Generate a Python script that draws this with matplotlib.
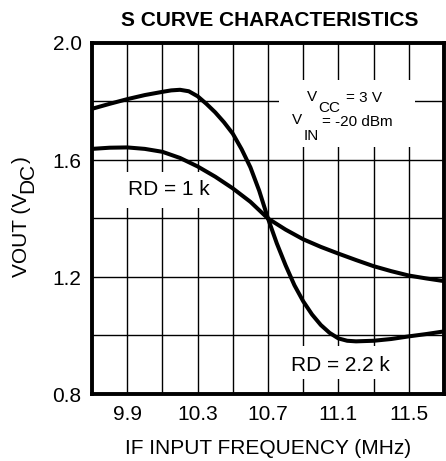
import matplotlib
matplotlib.use("Agg")
import matplotlib.pyplot as plt
from matplotlib.patches import Rectangle
from matplotlib.transforms import IdentityTransform

plt.rcParams['font.family'] = ['Liberation Sans', 'DejaVu Sans']

# Data
freq_22k = [9.7, 9.8, 9.9, 10.0, 10.1, 10.15, 10.2, 10.25, 10.3, 10.35, 10.4, 10.45,
            10.5, 10.55, 10.6, 10.65, 10.7, 10.75, 10.8, 10.85, 10.9, 10.95, 11.0,
            11.05, 11.1, 11.15, 11.2, 11.3, 11.4, 11.5, 11.6, 11.7]
vout_22k = [1.775, 1.792, 1.808, 1.822, 1.833, 1.838, 1.840, 1.835, 1.818, 1.792, 1.763, 1.729,
            1.690, 1.637, 1.575, 1.495, 1.400, 1.315, 1.240, 1.172, 1.117, 1.072, 1.036,
            1.009, 0.990, 0.982, 0.980, 0.982, 0.988, 0.997, 1.005, 1.014]

freq_1k = [9.7, 9.8, 9.9, 10.0, 10.1, 10.2, 10.3, 10.4, 10.5, 10.6, 10.7, 10.8,
           10.9, 11.0, 11.1, 11.2, 11.3, 11.4, 11.5, 11.6, 11.7]
vout_1k = [1.638, 1.642, 1.643, 1.638, 1.628, 1.607, 1.578, 1.543, 1.503, 1.457, 1.400, 1.362,
           1.329, 1.303, 1.280, 1.258, 1.237, 1.220, 1.205, 1.195, 1.186]

xticks = [9.9, 10.3, 10.7, 11.1, 11.5]
xgrid = [9.9, 10.1, 10.3, 10.5, 10.7, 10.9, 11.1, 11.3, 11.5]
yticks = [0.8, 1.2, 1.6, 2.0]
ygrid = [1.0, 1.2, 1.4, 1.6, 1.8]

W, H = 446, 461
fig = plt.figure(figsize=(W / 100, H / 100), dpi=100)
ax = fig.add_axes([92 / W, 67 / H, 352 / W, 351 / H])

ax.set_xlim(9.7, 11.7)
ax.set_ylim(0.8, 2.0)

for xv in xgrid:
    ax.axvline(xv, color='black', lw=1.0, zorder=0.5)
for yv in ygrid:
    ax.axhline(yv, color='black', lw=1.0, zorder=0.5)

# white boxes hiding gridlines behind text
ax.add_patch(Rectangle((10.762, 1.644), 0.773, 0.230, facecolor='white', edgecolor='none', zorder=1))
ax.add_patch(Rectangle((9.87, 1.436), 0.54, 0.123, facecolor='white', edgecolor='none', zorder=1))
ax.add_patch(Rectangle((10.79, 0.8496), 0.64, 0.113, facecolor='white', edgecolor='none', zorder=1))

ax.plot(freq_22k, vout_22k, color='black', lw=2.9, zorder=3,
        solid_joinstyle='round', solid_capstyle='round')
ax.plot(freq_1k, vout_1k, color='black', lw=2.9, zorder=3,
        solid_joinstyle='round', solid_capstyle='round')

ax.set_xticks(xticks)
ax.set_xticklabels([f"{v:.1f}" for v in xticks])
ax.set_yticks(yticks)
ax.set_yticklabels([f"{v:.1f}" for v in yticks])
ax.tick_params(axis='both', length=0, labelsize=15)
ax.tick_params(axis='x', pad=8)
ax.tick_params(axis='y', pad=7.5)

for s in ax.spines.values():
    s.set_linewidth(2.8)
    s.set_zorder(4)

ax.set_xlabel('IF INPUT FREQUENCY (MHz)', fontsize=15, labelpad=11)

fig.text(270 / W, 1 - 26 / H, 'S CURVE CHARACTERISTICS', ha='center', va='baseline',
         fontsize=15, fontweight='bold')

ax.text(10.137, 1.480, 'RD = 1 k', ha='center', va='baseline', fontsize=15, zorder=5)
ax.text(11.109, 0.8786, 'RD = 2.2 k', ha='center', va='baseline', fontsize=15, zorder=5)

# annotation with full-size lowered subscripts
def ft(px, py, s, size=11):
    fig.text(px / W, 1 - py / H, s, ha='left', va='baseline', fontsize=size)

ft(307, 101, 'V')
ft(318, 112, 'CC')
ft(346, 101.5, '= 3 V')
ft(292, 124, 'V')
ft(304, 140, 'IN')
ft(322, 126.5, '= -20 dBm')

# y label "VOUT (VDC)" with lowered DC, built from rotated pieces in pixel coords
renderer = fig.canvas.get_renderer()
ident = IdentityTransform()
ybase = H - 277.0
kw = dict(rotation=90, rotation_mode='anchor', ha='left', va='baseline',
          fontsize=15, transform=ident)
t1 = fig.text(26.7, ybase, 'VOUT (V', **kw)
l1 = t1.get_window_extent(renderer).height
t2 = fig.text(33.0, ybase + l1, 'DC', **kw)
l2 = t2.get_window_extent(renderer).height
fig.text(26.7, ybase + l1 + l2, ')', **kw)

fig.savefig('out.png', dpi=100)
